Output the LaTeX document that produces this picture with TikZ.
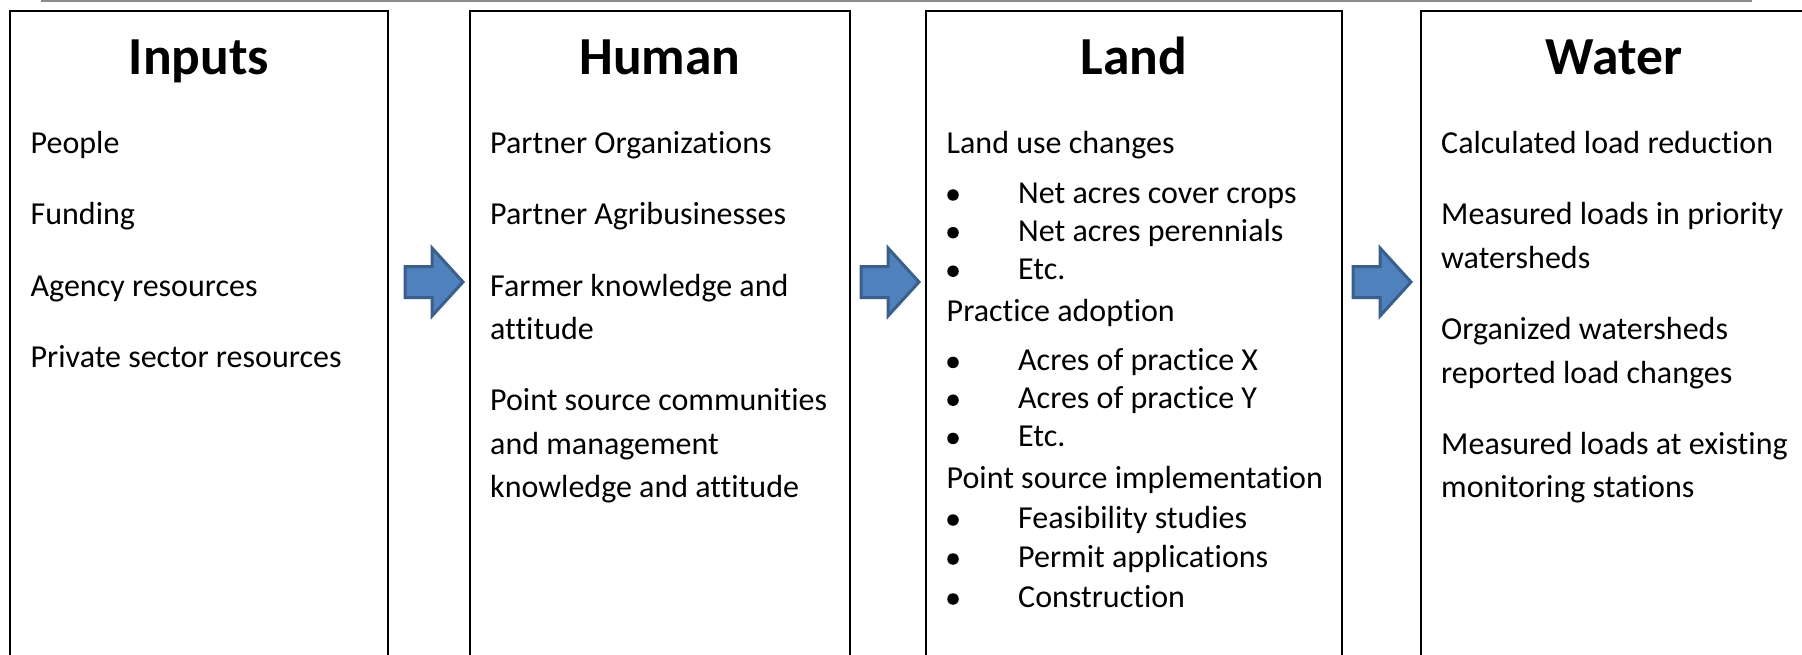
\documentclass[tikz,border=0pt]{standalone}
\usepackage{fontspec}
\setmainfont{Carlito}[Ligatures=NoCommon]
\definecolor{arrowfill}{HTML}{4F81BD}
\definecolor{arrowline}{HTML}{3A5F8B}
\definecolor{rulegray}{HTML}{8C8C8C}
\tikzset{
  colbox/.style={draw=black, line width=2pt, rectangle, anchor=north west, inner sep=0pt, outer sep=0pt, minimum height=720pt},
  coltitle/.style={font=\fontsize{53.5}{62}\selectfont\bfseries, anchor=base, inner sep=0pt},
  item/.style={font=\fontsize{32}{38}\selectfont, anchor=base west, inner sep=0pt},
  bul/.style={circle, fill=black, inner sep=0pt, minimum size=11.5pt},
  blockarrow/.style={fill=arrowfill, draw=arrowline, line width=3pt, line join=miter},
  toprule/.style={draw=rulegray, line width=1.6pt}
}
\begin{document}
\begin{tikzpicture}[x=1pt,y=-1pt]
\useasboundingbox (0,0) rectangle (1802,655);
\clip (0,0) rectangle (1802,655);
\fill[white] (0,0) rectangle (1802,655);

% top rule
\coordinate (ruleL) at (41,0.8);
\coordinate (ruleR) at (1752,0.8);
\draw[toprule] (ruleL) -- (ruleR);

% column boxes
\node[colbox, minimum width=378pt] (inputs) at (10,11) {};
\node[colbox, minimum width=380pt] (human) at (470,11) {};
\node[colbox, minimum width=416pt] (land) at (926,11) {};
\node[colbox, minimum width=386pt] (water) at (1421,11) {};

% titles
\node[coltitle] (tInputs) at (199,75) {Inputs};
\node[coltitle] (tHuman) at (660,75) {Human};
\node[coltitle] (tLand) at (1134,75) {Land};
\node[coltitle] (tWater) at (1614,75) {Water};

% Inputs items
\node[item] (i1) at (30.5,154) {People};
\node[item] (i2) at (30.5,225) {Funding};
\node[item] (i3) at (30.5,296) {Agency resources};
\node[item] (i4) at (30.5,367) {Private sector resources};

% Human items
\node[item] (h1) at (490,154) {Partner Organizations};
\node[item] (h2) at (490,225) {Partner Agribusinesses};
\node[item] (h3a) at (490,296) {Farmer knowledge and};
\node[item] (h3b) at (490,339.5) {attitude};
\node[item] (h4a) at (490,410.5) {Point source communities};
\node[item] (h4b) at (490,454) {and management};
\node[item] (h4c) at (490,497.5) {knowledge and attitude};

% Land items
\node[item] (l1) at (946.5,154) {Land use changes};
\node[item] (l1a) at (1018,203.3) {Net acres cover crops};
\node[item] (l1b) at (1018,241) {Net acres perennials};
\node[item] (l1c) at (1018,279.5) {Etc.};
\node[item] (l2) at (946.5,321.5) {Practice adoption};
\node[item] (l2a) at (1018,370.7) {Acres of practice X};
\node[item] (l2b) at (1018,408.5) {Acres of practice Y};
\node[item] (l2c) at (1018,446.7) {Etc.};
\node[item] (l3) at (946.5,488.3) {Point source implementation};
\node[item] (l3a) at (1018,528.3) {Feasibility studies};
\node[item] (l3b) at (1018,567.3) {Permit applications};
\node[item] (l3c) at (1018,607.3) {Construction};
\foreach \b/\y in {b1/203.3, b2/241, b3/279.5, b4/370.7, b5/408.5, b6/446.7, b7/528.3, b8/567.3, b9/607.3}
  \node[bul] (\b) at (953,\y-8.3) {};

% Water items
\node[item] (w1) at (1441,154) {Calculated load reduction};
\node[item] (w2a) at (1441,225) {Measured loads in priority};
\node[item] (w2b) at (1441,268.5) {watersheds};
\node[item] (w3a) at (1441,339.5) {Organized watersheds};
\node[item] (w3b) at (1441,383) {reported load changes};
\node[item] (w4a) at (1441,454) {Measured loads at existing};
\node[item] (w4b) at (1441,497.5) {monitoring stations};

% block arrows between columns
\foreach \n/\x in {a1/405, a2/861, a3/1353} {
  \coordinate (\n) at (\x,282);
  \draw[blockarrow] (\x,266.5) -- ++(27,0) -- ++(0,-18.5) -- ++(31,34) -- ++(-31,34) -- ++(0,-18.5) -- ++(-27,0) -- cycle;
}
\end{tikzpicture}
\end{document}
